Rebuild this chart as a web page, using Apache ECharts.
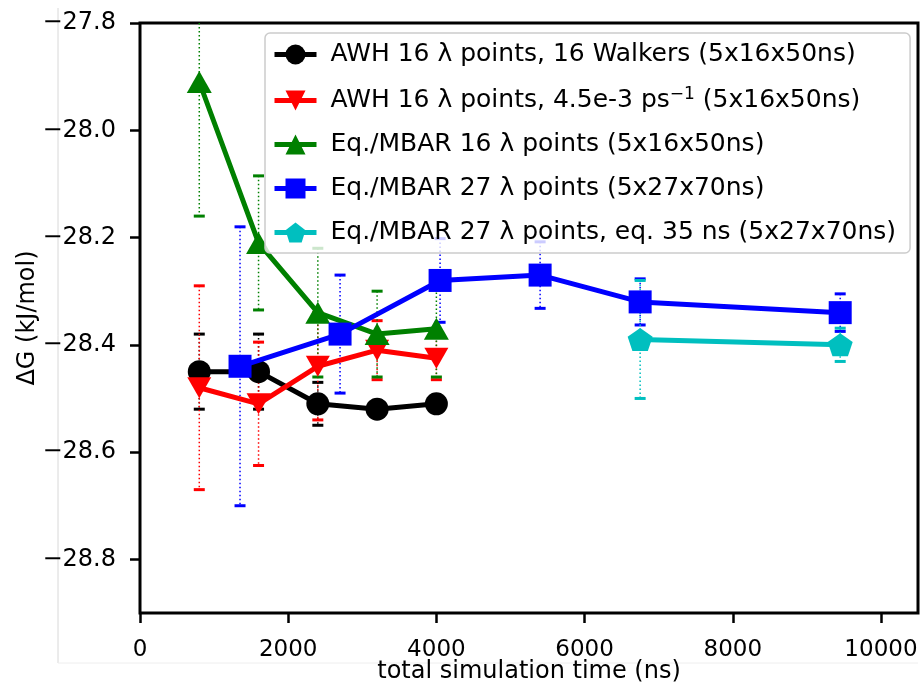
<!DOCTYPE html>
<html>
<head>
<meta charset="utf-8">
<script src="https://cdn.jsdelivr.net/npm/echarts@6/dist/echarts.min.js"></script>
<style>
  html, body { margin: 0; padding: 0; background: #fff; }
  #chart { width: 924px; height: 684px; }
</style>
</head>
<body>
<div id="chart"></div>
<script>
// 轴刻度
const xTicks = [0, 2000, 4000, 6000, 8000, 10000];
const yTicks = [-28.8, -28.6, -28.4, -28.2, -28.0, -27.8];

// AWH 16 lambda, 16 walkers
const awhWalkX = [800, 1600, 2400, 3200, 4000];
const awhWalkY = [-28.45, -28.45, -28.51, -28.52, -28.51];
const awhWalkErr = [0.07, 0.07, 0.04, 0.015, 0.015];

// AWH 16 lambda, 4.5e-3 ps^-1
const awhRateX = [800, 1600, 2400, 3200, 4000];
const awhRateY = [-28.48, -28.51, -28.44, -28.41, -28.425];
const awhRateErr = [0.19, 0.115, 0.1, 0.055, 0.04];

// Eq./MBAR 16 lambda
const mbar16X = [800, 1600, 2400, 3200, 4000];
const mbar16Y = [-27.91, -28.21, -28.34, -28.38, -28.37];
const mbar16Err = [0.25, 0.125, 0.12, 0.08, 0.09];

// Eq./MBAR 27 lambda
const mbar27X = [1350, 2700, 4050, 5400, 6750, 9450];
const mbar27Y = [-28.44, -28.38, -28.28, -28.27, -28.32, -28.34];
const mbar27Err = [0.26, 0.11, 0.078, 0.062, 0.043, 0.035];

// Eq./MBAR 27 lambda, eq. 35 ns
const mbar27eqX = [6750, 9450];
const mbar27eqY = [-28.39, -28.40];
const mbar27eqErr = [0.11, 0.031];

const FONT = 'DejaVu Sans';
const names = [
  'AWH 16 \u03bb points, 16 Walkers (5x16x50ns)',
  'AWH 16 \u03bb points, 4.5e-3 ps-1 (5x16x50ns)',
  'Eq./MBAR 16 \u03bb points (5x16x50ns)',
  'Eq./MBAR 27 \u03bb points (5x27x70ns)',
  'Eq./MBAR 27 \u03bb points, eq. 35 ns (5x27x70ns)'
];
const colors = ['#000000', '#ff0000', '#008000', '#0000ff', '#00bfbf'];

const symDown = 'path://M-1,-1L1,-1L0,1Z';
const symPenta = 'path://M0,-1L0.951,-0.309L0.588,0.809L-0.588,0.809L-0.951,-0.309Z';

/**
 * 误差棒: 点线 + 上下帽
 */
function renderErr(params, api) {
  const x = api.value(0);
  const y = api.value(1);
  const e = api.value(2);
  const top = api.coord([x, y + e]);
  const bot = api.coord([x, y - e]);
  const cs = params.coordSys;
  const yMin = cs.y;
  const yMax = cs.y + cs.height;
  const color = api.visual('color');
  const y0 = Math.max(top[1], yMin);
  const y1 = Math.min(bot[1], yMax);
  const children = [{
    type: 'line',
    shape: { x1: top[0], y1: y0, x2: top[0], y2: y1 },
    style: { stroke: color, lineWidth: 1.5, lineDash: [1.5, 2.5] }
  }];
  [top, bot].forEach(p => {
    if (p[1] >= yMin && p[1] <= yMax) {
      children.push({
        type: 'rect',
        shape: { x: p[0] - 5.5, y: p[1] - 1.5, width: 11, height: 3 },
        style: { fill: color }
      });
    }
  });
  return { type: 'group', children: children };
}

function pairs(xs, ys) {
  return xs.map((x, i) => [x, ys[i]]);
}
function triples(xs, ys, es) {
  return xs.map((x, i) => [x, ys[i], es[i]]);
}

const lineDefs = [
  { x: awhWalkX, y: awhWalkY, e: awhWalkErr, symbol: 'circle', size: 23 },
  { x: awhRateX, y: awhRateY, e: awhRateErr, symbol: symDown, size: [24, 21] },
  { x: mbar16X, y: mbar16Y, e: mbar16Err, symbol: 'triangle', size: [25, 22] },
  { x: mbar27X, y: mbar27Y, e: mbar27Err, symbol: 'rect', size: 23 },
  { x: mbar27eqX, y: mbar27eqY, e: mbar27eqErr, symbol: symPenta, size: [25, 23] }
];

const series = [];
lineDefs.forEach((d, i) => {
  series.push({
    name: 'err' + i,
    type: 'custom',
    renderItem: renderErr,
    data: triples(d.x, d.y, d.e),
    itemStyle: { color: colors[i] },
    z: 2 + i * 0.01,
    silent: true
  });
});
lineDefs.forEach((d, i) => {
  series.push({
    name: names[i],
    type: 'line',
    data: pairs(d.x, d.y),
    symbol: d.symbol,
    symbolSize: d.size,
    showSymbol: true,
    itemStyle: { color: colors[i], borderWidth: 0 },
    lineStyle: { color: colors[i], width: 5 },
    z: 3 + i * 0.01
  });
});

const chart = echarts.init(document.getElementById('chart'));
chart.setOption({
  animation: false,
  backgroundColor: '#fff',
  textStyle: { fontFamily: FONT },
  grid: {
    left: 140, right: 6, top: 23, bottom: 71,
    outerBoundsMode: 'none',
    containLabel: false,
    show: true, borderColor: '#000', borderWidth: 3, backgroundColor: 'transparent'
  },
  legend: {
    data: names,
    left: 265,
    top: 33,
    orient: 'vertical',
    itemWidth: 42,
    itemHeight: 25,
    itemGap: 19,
    padding: [9, 14, 8, 7],
    backgroundColor: 'rgba(255,255,255,0.8)',
    borderColor: '#cccccc',
    borderWidth: 1.5,
    borderRadius: 5,
    lineStyle: { width: 5 },
    formatter: name => name.replace('ps-1', 'ps{s|\u22121}'),
    textStyle: {
      fontFamily: FONT, fontSize: 25, color: '#000', padding: [0, 0, 0, 9],
      rich: {
        s: { fontFamily: FONT, fontSize: 17, color: '#000', padding: [0, 0, 12, 0] }
      }
    }
  },
  xAxis: {
    type: 'value',
    min: 0,
    max: 10500,
    name: 'total simulation time (ns)',
    nameLocation: 'middle',
    nameGap: 47,
    nameMoveOverlap: false,
    nameTextStyle: { fontFamily: FONT, fontSize: 24, color: '#000' },
    axisLine: { show: false },
    axisTick: { show: true, customValues: xTicks, length: 10, lineStyle: { color: '#000', width: 2.5 } },
    axisLabel: {
      customValues: xTicks, margin: 26, fontFamily: FONT, fontSize: 23, color: '#000',
      formatter: v => String(v)
    },
    splitLine: { show: false }
  },
  yAxis: {
    type: 'value',
    min: -28.9,
    max: -27.8,
    name: '\u0394G (kJ/mol)',
    nameLocation: 'middle',
    nameGap: 100,
    nameMoveOverlap: false,
    nameRotate: 90,
    nameTextStyle: { fontFamily: FONT, fontSize: 24, color: '#000' },
    axisLine: { show: false },
    axisTick: { show: true, customValues: yTicks, length: 10, lineStyle: { color: '#000', width: 2.5 } },
    axisLabel: {
      customValues: yTicks,
      margin: 24,
      fontFamily: FONT,
      fontSize: 24,
      color: '#000',
      formatter: v => (v < 0 ? '\u2212' : '') + Math.abs(v).toFixed(1)
    },
    splitLine: { show: false }
  },
  graphic: [
    { type: 'line', shape: { x1: 58, y1: 8, x2: 58, y2: 663 }, style: { stroke: '#d8d8d8', lineWidth: 1 }, silent: true },
    { type: 'line', shape: { x1: 58, y1: 663, x2: 918, y2: 663 }, style: { stroke: '#eeeeee', lineWidth: 1 }, silent: true }
  ],
  series: series
});
</script>
</body>
</html>
